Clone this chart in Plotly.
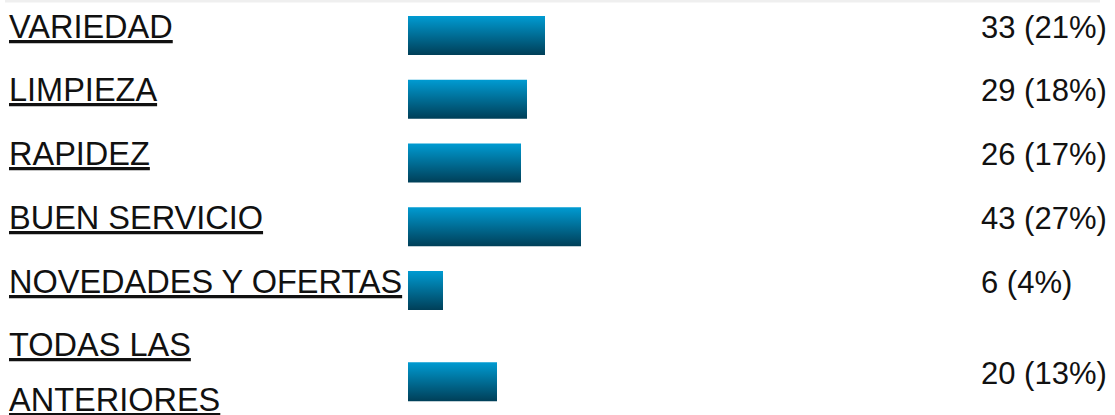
import plotly.graph_objects as go

# ---- data ----
categories = ["VARIEDAD", "LIMPIEZA", "RAPIDEZ", "BUEN SERVICIO",
              "NOVEDADES Y OFERTAS", "TODAS LAS<br>ANTERIORES"]
counts = [33, 29, 26, 43, 6, 20]
percents = [21, 18, 17, 27, 4, 13]

# ---- style / layout constants (pixels) ----
W, H = 1115, 415
FONT = "Liberation Sans, Arial, sans-serif"
FS_LABEL = 32.5
FS_VALUE = 31
TXT = "#111111"
GRAD_TOP = "#009bd2"
GRAD_BOT = "#003f58"
ROW_PITCH = 63.75          # height of a one-line row
LINE_GAP = 55              # extra height per extra label line
ROW_TOP0 = 3.6
BAR_H = 39
BAR_X0_PX = 408            # left edge of bar area
PX_PER_PCT = 6.0
PCT_OFFSET_PX = 11         # bar length = offset + pct * px_per_pct
LABEL_X_PX = 8
VALUE_X_PX = 980

x_start = -PCT_OFFSET_PX / PX_PER_PCT
x_end = x_start + (W - BAR_X0_PX) / PX_PER_PCT

fig = go.Figure()
annotations = []

row_top = ROW_TOP0
for cat, c, p in zip(categories, counts, percents):
    lines = cat.split("<br>")
    row_h = ROW_PITCH + (len(lines) - 1) * LINE_GAP
    yc = row_top + row_h / 2
    y0, y1 = yc - BAR_H / 2, yc + BAR_H / 2
    fig.add_trace(go.Scatter(
        x=[x_start, p, p, x_start, x_start], y=[y0, y0, y1, y1, y0],
        mode="lines", fill="toself",
        line=dict(width=0, color="rgba(0,0,0,0)"),
        fillgradient=dict(type="vertical",
                          colorscale=[[0, GRAD_BOT], [1, GRAD_TOP]]),
        hoverinfo="skip", showlegend=False))
    # label lines
    for k, ln in enumerate(lines):
        annotations.append(dict(
            x=LABEL_X_PX / W, xref="paper", xanchor="left",
            y=row_top + 23.0 + k * LINE_GAP, yref="y", yanchor="middle",
            text=f"<u>{ln}</u>", showarrow=False, borderpad=0,
            font=dict(family=FONT, size=FS_LABEL, color=TXT)))
    # value text
    annotations.append(dict(
        x=VALUE_X_PX / W, xref="paper", xanchor="left",
        y=yc - 8.3, yref="y", yanchor="middle",
        text=f"{c} ({p}%)", showarrow=False, borderpad=0,
        font=dict(family=FONT, size=FS_VALUE, color=TXT)))
    row_top += row_h

fig.update_layout(
    width=W, height=H,
    margin=dict(l=0, r=0, t=0, b=0),
    paper_bgcolor="white", plot_bgcolor="white",
    showlegend=False, hovermode=False,
    xaxis=dict(domain=[BAR_X0_PX / W, 1], range=[x_start, x_end],
               visible=False, fixedrange=True),
    yaxis=dict(domain=[0, 1], range=[H, 0], visible=False, fixedrange=True),
    annotations=annotations,
    shapes=[dict(type="rect", xref="paper", yref="paper",
                 x0=5 / W, x1=1100 / W, y0=1 - 2.5 / H, y1=1,
                 fillcolor="#efefef", line=dict(width=0), layer="below")],
)

fig.write_html("out.html", config={"displayModeBar": False})
